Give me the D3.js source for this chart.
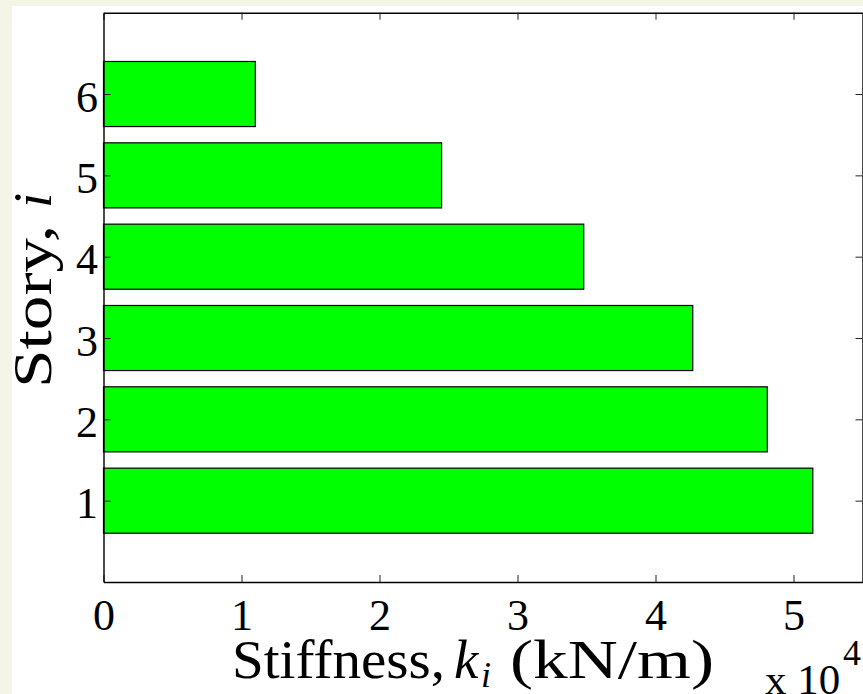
<!DOCTYPE html>
<html>
<head>
<meta charset="utf-8">
<script src="https://cdn.jsdelivr.net/npm/d3@7/dist/d3.min.js"></script>
<style>
  html, body { margin: 0; padding: 0; background: #f4f4e7; }
  svg { display: block; }
  svg text { font-family: "Liberation Serif", Tinos, "Times New Roman", Times, serif; fill: #000; }
</style>
</head>
<body>
<script>
// Story stiffness of a six-storey frame, in units of 10^4 kN/m
const stories = [1, 2, 3, 4, 5, 6];
const stiffness = [5.14, 4.81, 4.27, 3.48, 2.45, 1.10];
const xTickValues = [0, 1, 2, 3, 4, 5];
const xDomain = [0, 5.5];
const yDomain = [0, 7];
const xLabel = "Stiffness,";
const xUnit = "(kN/m)";
const yLabel = "Story,";
const exponentBase = "x 10";
const exponentPow = "4";

const W = 863, H = 694;
const plot = { left: 103.5, right: 862.5, top: 12.7, bottom: 582 };
const serif = "'Liberation Serif', Tinos, 'Times New Roman', Times, serif";

const svg = d3.select("body").append("svg")
  .attr("width", W).attr("height", H)
  .attr("font-family", serif);

// figure background
svg.append("rect").attr("x", 0).attr("y", 0).attr("width", W).attr("height", H).attr("fill", "#f4f4e7");
svg.append("rect").attr("x", 12).attr("y", 6).attr("width", W - 12).attr("height", H - 6).attr("fill", "#ffffff");

const x = d3.scaleLinear().domain(xDomain).range([plot.left, plot.right]);
const y = d3.scaleLinear().domain(yDomain).range([plot.bottom, plot.top]);
const barHalf = 0.4;

// bars
svg.append("g").selectAll("rect")
  .data(stories.map((s, i) => ({ s, v: stiffness[i] })))
  .join("rect")
  .attr("x", x(0))
  .attr("y", d => y(d.s + barHalf))
  .attr("width", d => x(d.v) - x(0))
  .attr("height", d => y(d.s - barHalf) - y(d.s + barHalf))
  .attr("fill", "#00ff00")
  .attr("stroke", "#000")
  .attr("stroke-width", 1.2);

const tickLen = 7;
const fontTick = 44;

// bottom axis
const gx = svg.append("g").attr("transform", `translate(0,${plot.bottom})`)
  .call(d3.axisBottom(x).tickValues(xTickValues).tickSize(-tickLen).tickSizeOuter(0).tickFormat(d3.format("d")));
gx.selectAll("text").attr("y", 0).attr("dy", null).attr("transform", `translate(0,48)`)
  .style("font-size", fontTick + "px");

// top axis (ticks only)
svg.append("g").attr("transform", `translate(0,${plot.top})`)
  .call(d3.axisTop(x).tickValues(xTickValues).tickSize(-tickLen).tickSizeOuter(0).tickFormat(""));

// left axis
const gy = svg.append("g").attr("transform", `translate(${plot.left},0)`)
  .call(d3.axisLeft(y).tickValues(stories).tickSize(-tickLen).tickSizeOuter(0).tickFormat(d3.format("d")));
gy.selectAll("text").attr("x", -5.5).attr("dy", null).attr("transform", "translate(0,17)")
  .style("font-size", fontTick + "px");

// right axis (ticks only)
svg.append("g").attr("transform", `translate(${plot.right},0)`)
  .call(d3.axisRight(y).tickValues(stories).tickSize(-tickLen).tickSizeOuter(0).tickFormat(""));

svg.selectAll("g").attr("font-family", serif);
svg.selectAll(".domain").attr("stroke", "#000").attr("stroke-width", 1.4);
svg.selectAll(".tick line").attr("stroke", "#222").attr("stroke-width", 1);
svg.selectAll(".tick text").attr("fill", "#000");

// x axis label: Stiffness, k_i (kN/m)
const labelSize = 55;
const xl = svg.append("g").attr("transform", "translate(0,678)");
xl.append("text").attr("x", 232).attr("textLength", 213).attr("lengthAdjust", "spacingAndGlyphs")
  .style("font-size", labelSize + "px").text(xLabel);
xl.append("text").attr("x", 454).style("font-size", labelSize + "px").style("font-style", "italic").text("k");
xl.append("text").attr("x", 481).attr("y", 9).style("font-size", "36px").style("font-style", "italic").text("i");
xl.append("text").attr("x", 510).attr("textLength", 204).attr("lengthAdjust", "spacingAndGlyphs")
  .style("font-size", labelSize + "px").text(xUnit);

// exponent marker
svg.append("text").attr("x", 765).attr("y", 694).style("font-size", "43px").text(exponentBase);
svg.append("text").attr("x", 843).attr("y", 665).style("font-size", "36px").text(exponentPow);

// y axis label: Story, i
const yl = svg.append("g").attr("transform", "translate(51,388) rotate(-90)");
yl.append("text").attr("x", 0).attr("textLength", 163).attr("lengthAdjust", "spacingAndGlyphs")
  .style("font-size", labelSize + "px").text(yLabel);
yl.append("text").attr("x", 180).style("font-size", labelSize + "px").style("font-style", "italic").text("i");
</script>
</body>
</html>
